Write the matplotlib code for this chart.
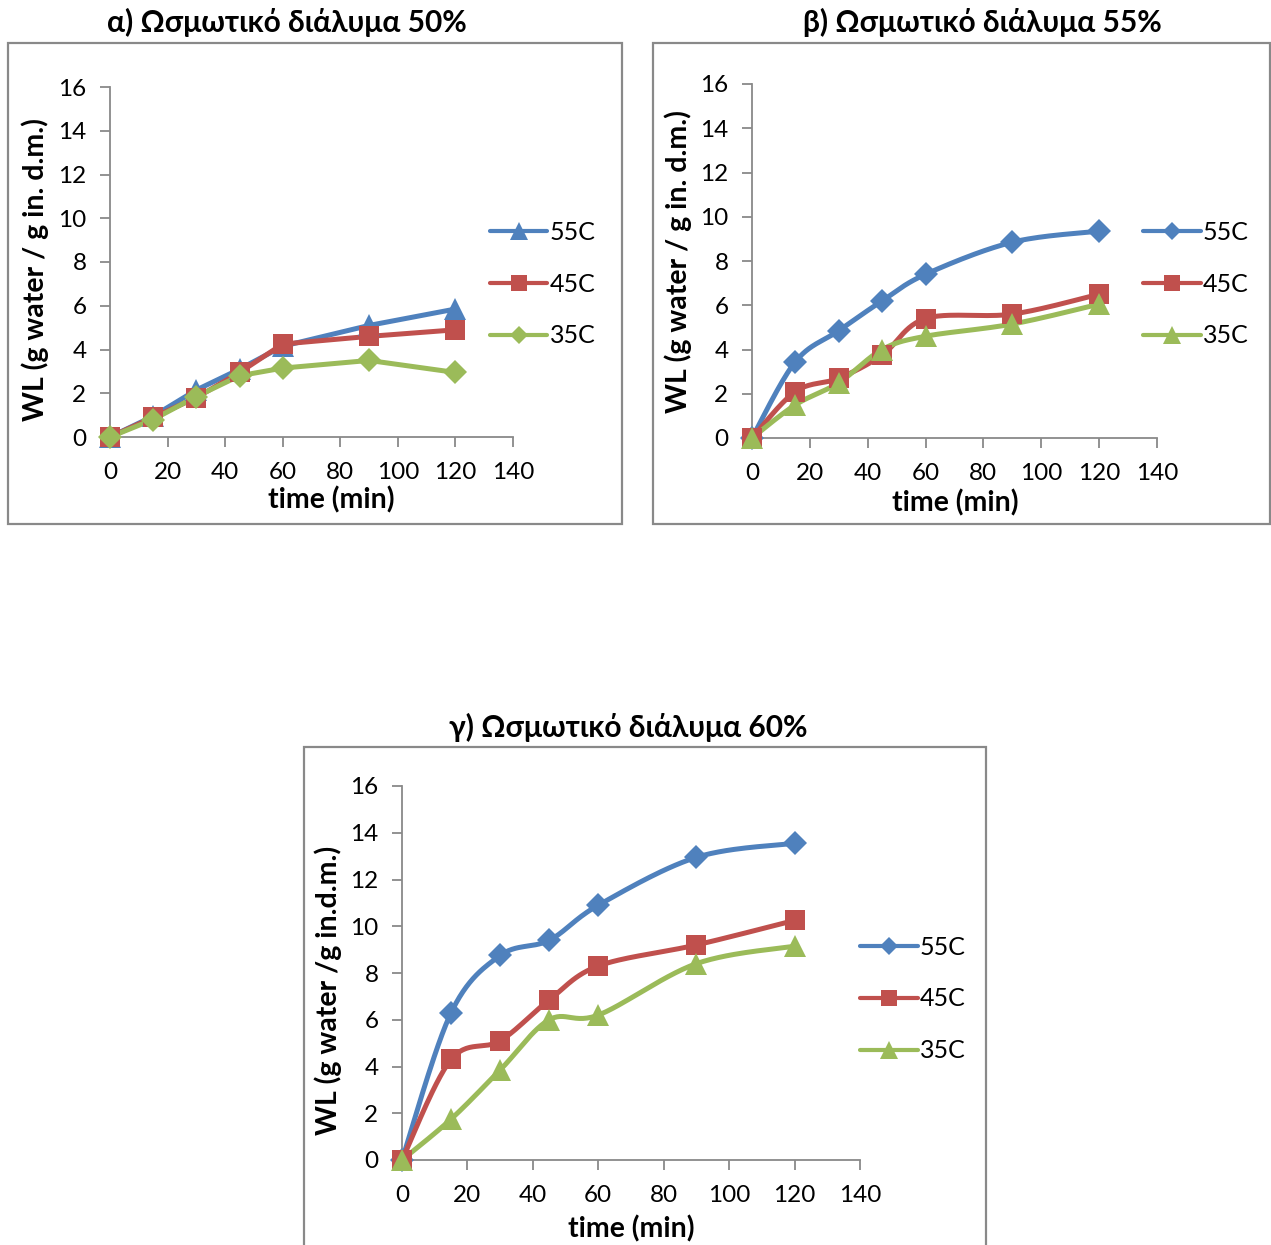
import numpy as np
import matplotlib
matplotlib.use("Agg")
import matplotlib.pyplot as plt
from matplotlib.patches import Rectangle
from matplotlib.lines import Line2D

# ---- data -------------------------------------------------------------
time_min = [0, 15, 30, 45, 60, 90, 120]
series_labels = ["55C", "45C", "35C"]

# 50% osmotic solution
wl50_55 = [0, 0.95, 2.15, 3.1, 4.15, 5.1, 5.85]
wl50_45 = [0, 0.9, 1.8, 2.95, 4.25, 4.6, 4.9]
wl50_35 = [0, 0.8, 1.85, 2.8, 3.15, 3.5, 2.95]

# 55% osmotic solution
wl55_55 = [0, 3.45, 4.85, 6.2, 7.4, 8.85, 9.35]
wl55_45 = [0, 2.1, 2.7, 3.75, 5.4, 5.6, 6.5]
wl55_35 = [0, 1.5, 2.5, 4.0, 4.6, 5.15, 6.05]

# 60% osmotic solution
wl60_55 = [0, 6.3, 8.75, 9.4, 10.9, 12.95, 13.55]
wl60_45 = [0, 4.3, 5.1, 6.85, 8.3, 9.2, 10.25]
wl60_35 = [0, 1.75, 3.85, 6.0, 6.2, 8.4, 9.15]

x_ticks = [0, 20, 40, 60, 80, 100, 120, 140]
y_ticks = [0, 2, 4, 6, 8, 10, 12, 14, 16]

titles = ["α) Ωσμωτικό διάλυμα 50%",
          "β) Ωσμωτικό διάλυμα 55%",
          "γ) Ωσμωτικό διάλυμα 60%"]
xlabel = "time (min)"
ylabels = ["WL (g water / g in. d.m.)",
           "WL (g water / g in. d.m.)",
           "WL (g water /g in.d.m.)"]

# ---- style ------------------------------------------------------------
BLUE, RED, GREEN = "#4F81BD", "#C0504D", "#9BBB59"
GRAY = "#898989"
FONT = ["Lato", "Open Sans", "DejaVu Sans"]
plt.rcParams["font.family"] = FONT

W, H = 1271, 1245
fig = plt.figure(figsize=(W / 100, H / 100), dpi=100)
fig.patch.set_facecolor("white")

TICK_FS = 17.5
LEGEND_FS = 18
LABEL_FS = 20.5
TITLE_FS = 21.5


def fx(px):
    return px / W


def fy(py):
    return 1 - py / H


def px_axes(left, top, right, bottom):
    return fig.add_axes([fx(left), fy(bottom), (right - left) / W, (bottom - top) / H])


def smooth(x, y, steps=30):
    """Cubic Bezier curve through the points (Catmull-Rom style tangents)."""
    x = np.asarray(x, float)
    y = np.asarray(y, float)
    px = np.concatenate([[x[0]], x, [x[-1]]])
    py = np.concatenate([[y[0]], y, [y[-1]]])
    t = np.linspace(0, 1, steps)[1:]
    cx, cy = [x[0]], [y[0]]
    for i in range(len(x) - 1):
        p0 = np.array([px[i], py[i]])
        p1 = np.array([px[i + 1], py[i + 1]])
        p2 = np.array([px[i + 2], py[i + 2]])
        p3 = np.array([px[i + 3], py[i + 3]])
        c1 = p1 + (p2 - p0) / 6
        c2 = p2 - (p3 - p1) / 6
        b = ((1 - t) ** 3)[:, None] * p1 + (3 * (1 - t) ** 2 * t)[:, None] * c1 \
            + (3 * (1 - t) * t ** 2)[:, None] * c2 + (t ** 3)[:, None] * p2
        cx.extend(b[:, 0])
        cy.extend(b[:, 1])
    return np.array(cx), np.array(cy)


MSIZE = {"^": 15.5, "s": 15, "D": 12}


def draw_panel(box, axes_px, title, title_xy, ylabel, ylab_xy, xlab_xy,
               series, smooth_lines, legend_xy):
    # outer frame of the chart
    bl, bt, br, bb = box
    fig.patches.append(Rectangle((fx(bl), fy(bb)), (br - bl) / W, (bb - bt) / H,
                                 transform=fig.transFigure, fill=False,
                                 edgecolor=GRAY, lw=1.6, zorder=0))
    fig.text(fx(title_xy[0]), fy(title_xy[1]), title, ha="center", va="center",
             fontsize=TITLE_FS, fontweight="bold")

    left, top, right, bottom = axes_px
    ax = px_axes(left, top, right, bottom)
    ax.set_xlim(0, 140)
    ax.set_ylim(0, 16)
    ax.set_xticks(x_ticks)
    ax.set_yticks(y_ticks)
    for s in ("top", "right"):
        ax.spines[s].set_visible(False)
    for s in ("left", "bottom"):
        ax.spines[s].set_color(GRAY)
        ax.spines[s].set_linewidth(1.3)
    ax.tick_params(direction="out", length=7, width=1.3, color=GRAY,
                   labelsize=TICK_FS, labelcolor="black")
    ax.tick_params(axis="x", pad=11)
    ax.tick_params(axis="y", pad=10)

    ax.set_xlabel(xlabel, fontsize=LABEL_FS, fontweight="bold", va="center")
    ax.set_ylabel(ylabel, fontsize=LABEL_FS, fontweight="bold", va="center")
    ax.xaxis.set_label_coords((xlab_xy[0] - left) / (right - left),
                              (bottom - xlab_xy[1]) / (bottom - top))
    ax.yaxis.set_label_coords((ylab_xy[0] - left) / (right - left),
                              (bottom - ylab_xy[1]) / (bottom - top))

    handles = []
    for vals, color, marker, lab in series:
        if smooth_lines:
            sx, sy = smooth(time_min, vals)
        else:
            sx, sy = np.asarray(time_min, float), np.asarray(vals, float)
        ax.plot(sx, sy, color=color, lw=3.6, solid_capstyle="round",
                solid_joinstyle="round", clip_on=False, zorder=2)
        ax.plot(time_min, vals, linestyle="none", marker=marker, color=color,
                markersize=MSIZE[marker], markeredgewidth=0, clip_on=False, zorder=3)
        handles.append(Line2D([], [], color=color, lw=3.0, marker=marker,
                              markersize=MSIZE[marker] * 0.8, markeredgewidth=0,
                              solid_capstyle="round"))
    ax.legend(handles, [s[3] for s in series], loc="center left",
              bbox_to_anchor=(fx(legend_xy[0]), fy(legend_xy[1])),
              bbox_transform=fig.transFigure, frameon=False, borderpad=0,
              borderaxespad=0, handlelength=2.3, handletextpad=0.1,
              labelspacing=1.15, fontsize=LEGEND_FS, numpoints=1)
    return ax


draw_panel(box=(8, 43, 622, 524), axes_px=(110, 87, 513, 437),
           title=titles[0], title_xy=(287, 22),
           ylabel=ylabels[0], ylab_xy=(35, 270), xlab_xy=(331, 500),
           series=[(wl50_55, BLUE, "^", series_labels[0]),
                   (wl50_45, RED, "s", series_labels[1]),
                   (wl50_35, GREEN, "D", series_labels[2])],
           smooth_lines=False, legend_xy=(490, 284))

draw_panel(box=(653, 43, 1270, 524), axes_px=(752, 84, 1157, 438),
           title=titles[1], title_xy=(982, 22),
           ylabel=ylabels[1], ylab_xy=(678, 262), xlab_xy=(955, 503),
           series=[(wl55_55, BLUE, "D", series_labels[0]),
                   (wl55_45, RED, "s", series_labels[1]),
                   (wl55_35, GREEN, "^", series_labels[2])],
           smooth_lines=True, legend_xy=(1143, 284))

draw_panel(box=(304, 747, 986, 1262), axes_px=(402, 786, 860, 1160),
           title=titles[2], title_xy=(628, 727),
           ylabel=ylabels[2], ylab_xy=(328, 990), xlab_xy=(631, 1229),
           series=[(wl60_55, BLUE, "D", series_labels[0]),
                   (wl60_45, RED, "s", series_labels[1]),
                   (wl60_35, GREEN, "^", series_labels[2])],
           smooth_lines=True, legend_xy=(860, 999))

fig.savefig("out.png", dpi=100, facecolor="white")
